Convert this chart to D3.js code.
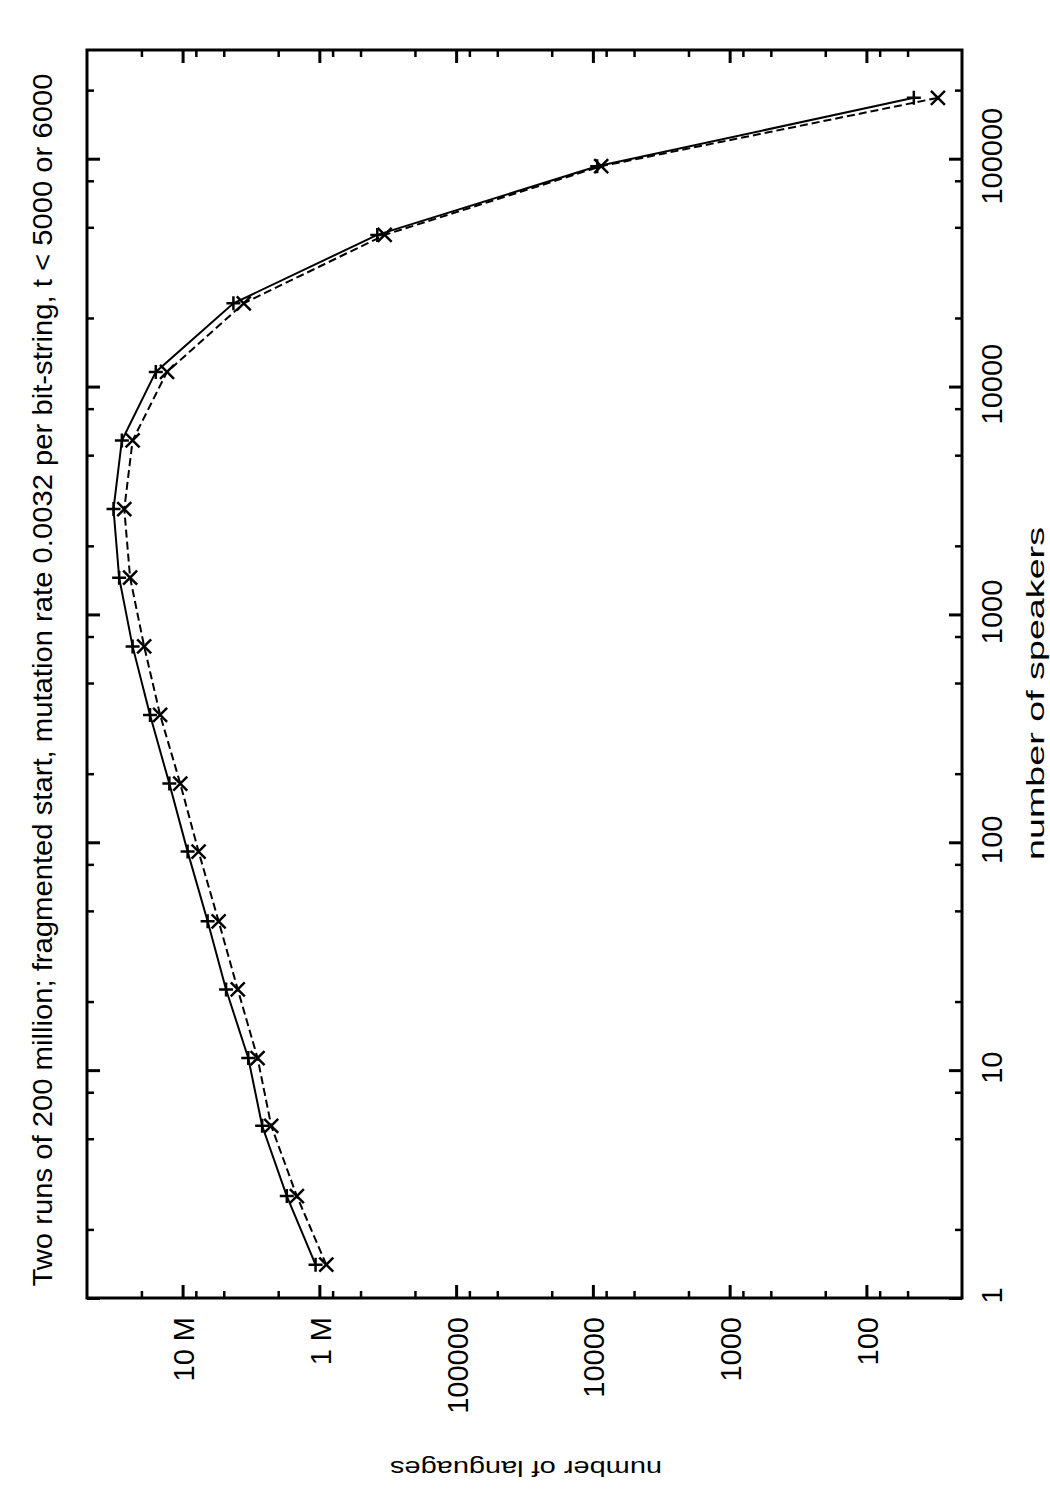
<!DOCTYPE html>
<html lang="en">
<head>
<meta charset="utf-8">
<title>number of languages vs number of speakers</title>
<script src="https://d3js.org/d3.v7.min.js"></script>
<style type="text/css">
  body { margin: 0; background: #fff; }
  svg text { font-family: "Liberation Sans", Arial, Helvetica, sans-serif; fill: #000; }
  .run1 { fill: none; stroke: #000; stroke-width: 2px; }
  .run2 { fill: none; stroke: #000; stroke-width: 2px; stroke-dasharray: 8,4; }
  .mark { fill: none; stroke: #000; stroke-width: 2.5px; }
  .frame { fill: none; stroke: #000; stroke-width: 3px; }
  .tick line { stroke: #000; }
</style>
</head>
<body>
<script type="text/javascript">

var w = 1050;
var h = 1500;

// plot box on the page (the gnuplot page is turned on its side)
var box = {left: 87, right: 962, top: 50, bottom: 1298};

// data: number of speakers per bin, and how many languages fall in it
var speakers = [1.4, 2.8, 5.7, 11.3, 22.6, 45, 91, 181, 362, 724, 1450, 2900,
                5800, 11600, 23200, 46300, 92700, 185000];

var run1 = [1066000, 1730000, 2620000, 3310000, 4810000, 6560000, 9190000,
            12500000, 17300000, 23200000, 29100000, 32000000, 27800000,
            15700000, 4250000, 377000, 9300, 45];

var run2 = [890000, 1460000, 2250000, 2830000, 3950000, 5450000, 7640000,
            10400000, 14600000, 19100000, 24200000, 26700000, 23200000,
            13000000, 3570000, 333000, 8700, 30];

// tick labels
var langTicks = [100, 1000, 10000, 100000, 1000000, 10000000];
var langLabels = ["100", "1000", "10000", "100000", "1 M", "10 M"];
var spkTicks = [1, 10, 100, 1000, 10000, 100000];
var spkLabels = ["1", "10", "100", "1000", "10000", "100000"];
var minorSteps = [2, 5, 8];

var title = "Two runs of 200 million; fragmented start, mutation rate 0.0032 per bit-string, t < 5000 or 6000";

var svg = d3.select("body")
            .append("svg")
            .attr("width", w)
            .attr("height", h);

// languages run across the page (right to left), speakers run up the page
var xScale = d3.scaleLog()
               .domain([50000000, 20])
               .range([box.left, box.right]);

var yScale = d3.scaleLog()
               .domain([1, 300000])
               .range([box.bottom, box.top]);

function minors(domain) {
  var lo = d3.min(domain), hi = d3.max(domain), out = [];
  for (var e = -1; e <= 8; e++) {
    minorSteps.forEach(function(m) {
      var v = m * Math.pow(10, e);
      if (v > lo && v < hi) out.push(v);
    });
  }
  return out;
}

var langMinor = minors(xScale.domain());
var spkMinor = minors(yScale.domain());

// ticks on all four sides, pointing in
function tickAxis(axis, pos, values, size, width) {
  var g = svg.append("g")
     .attr("transform", pos)
     .call(axis.tickValues(values).tickSizeInner(size).tickSizeOuter(0).tickFormat(""));
  g.select(".domain").remove();
  g.selectAll(".tick line").style("stroke-width", width);
  return g;
}

tickAxis(d3.axisBottom(xScale), `translate(0, ${box.bottom})`, langTicks, -13, 3);
tickAxis(d3.axisBottom(xScale), `translate(0, ${box.bottom})`, langMinor, -7, 2.5);
tickAxis(d3.axisTop(xScale), `translate(0, ${box.top})`, langTicks, -13, 3);
tickAxis(d3.axisTop(xScale), `translate(0, ${box.top})`, langMinor, -7, 2.5);
tickAxis(d3.axisLeft(yScale), `translate(${box.left}, 0)`, spkTicks, -13, 3);
tickAxis(d3.axisLeft(yScale), `translate(${box.left}, 0)`, spkMinor, -7, 2.5);
tickAxis(d3.axisRight(yScale), `translate(${box.right}, 0)`, spkTicks, -13, 3);
tickAxis(d3.axisRight(yScale), `translate(${box.right}, 0)`, spkMinor, -7, 2.5);

// tick labels, turned with the page
var langAxis = d3.axisBottom(xScale)
                 .tickValues(langTicks)
                 .tickSize(0)
                 .tickFormat((d, i) => langLabels[i]);

var gl = svg.append("g")
   .attr("transform", `translate(0, ${box.bottom})`)
   .call(langAxis);
gl.select(".domain").remove();
gl.selectAll("text")
  .attr("x", null).attr("y", null).attr("dy", null)
  .attr("text-anchor", "end")
  .attr("font-size", 29)
  .attr("transform", "translate(11, 19) rotate(-90)");

var spkAxis = d3.axisRight(yScale)
                .tickValues(spkTicks)
                .tickSize(0)
                .tickFormat((d, i) => spkLabels[i]);

var gs = svg.append("g")
   .attr("transform", `translate(${box.right}, 0)`)
   .call(spkAxis);
gs.select(".domain").remove();
gs.selectAll("text")
  .attr("x", null).attr("y", null).attr("dy", null)
  .attr("text-anchor", "middle")
  .attr("font-size", 29)
  .attr("transform", "translate(40, -3) rotate(-90)");

// frame
svg.append("rect")
   .attr("class", "frame")
   .attr("x", box.left)
   .attr("y", box.top)
   .attr("width", box.right - box.left)
   .attr("height", box.bottom - box.top);

// lines
var lineGen = d3.line()
                .x(d => xScale(d[1]))
                .y(d => yScale(d[0]));

var pts1 = d3.zip(speakers, run1);
var pts2 = d3.zip(speakers, run2);

svg.append("path")
   .datum(pts1)
   .attr("class", "run1")
   .attr("d", lineGen);

svg.append("path")
   .datum(pts2)
   .attr("class", "run2")
   .attr("d", lineGen);

// points: + for the first run, x for the second
svg.selectAll("path.plus")
   .data(pts1)
   .enter()
   .append("path")
   .attr("class", "mark plus")
   .attr("d", "M-7,0H7M0,-7V7")
   .attr("transform", d => `translate(${xScale(d[1])}, ${yScale(d[0])})`);

svg.selectAll("path.cross")
   .data(pts2)
   .enter()
   .append("path")
   .attr("class", "mark cross")
   .attr("d", "M-7,-7L7,7M-7,7L7,-7")
   .attr("transform", d => `translate(${xScale(d[1])}, ${yScale(d[0])})`);

// title and axis titles
svg.append("text")
   .attr("text-anchor", "middle")
   .attr("font-size", 28)
   .attr("textLength", 1213)
   .attr("lengthAdjust", "spacingAndGlyphs")
   .attr("transform", "translate(52, 680) rotate(-90)")
   .text(title);

svg.append("text")
   .attr("text-anchor", "middle")
   .attr("font-size", 23)
   .attr("textLength", 333)
   .attr("lengthAdjust", "spacingAndGlyphs")
   .attr("transform", "translate(1043.5, 693.5) rotate(-90)")
   .text("number of speakers");

svg.append("text")
   .attr("text-anchor", "middle")
   .attr("font-size", 22.5)
   .attr("textLength", 272)
   .attr("lengthAdjust", "spacingAndGlyphs")
   .attr("transform", "translate(526, 1461) rotate(180)")
   .text("number of languages");

</script>
</body>
</html>
